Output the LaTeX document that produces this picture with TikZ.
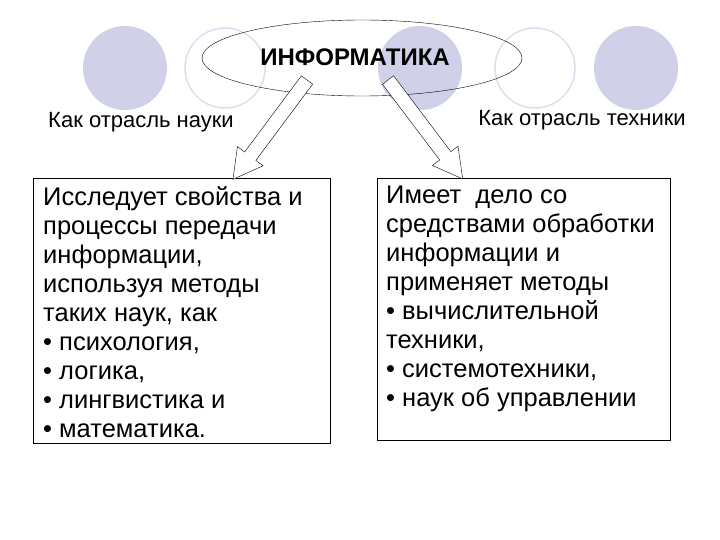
\documentclass[tikz,border=0pt]{standalone}
\usepackage{fontspec}
\setmainfont{Liberation Sans}
\usetikzlibrary{shapes.geometric}
\definecolor{lav}{RGB}{208,208,232}
\tikzset{
 fcirc/.style={fill=lav,draw=none},
 ocirc/.style={draw=lav!70,line width=1.5pt},
 txt/.style={anchor=north west,align=left,font=\fontsize{25.5}{29}\selectfont,inner sep=0pt},
 hollow/.style={draw=black,line width=0.4pt,fill=white}
}
\begin{document}
\begin{tikzpicture}[x=1pt,y=-1pt]
\useasboundingbox (0,0) rectangle (720,540);
\fill[white] (0,0) rectangle (720,540);
\fill[fcirc] (125,68) circle (42);
\draw[ocirc] (225,68) circle (40);
\fill[fcirc] (420,68) circle (42);
\draw[ocirc] (535,68) circle (40);
\fill[fcirc] (636,68) circle (42);
\node[draw,ellipse,minimum width=320,minimum height=76] (e) at (362,58) {};
\node[font=\bfseries\fontsize{24}{26}\selectfont] (t) at (355,57) {ИНФОРМАТИКА};
\node[font=\fontsize{22}{24}\selectfont] (l1) at (141,122) {Как отрасль науки};
\node[font=\fontsize{22}{24}\selectfont] (l2) at (582,120) {Как отрасль техники};
\draw[line width=0.6pt] (33,178) rectangle (330,443);
\draw[line width=0.6pt] (377,178) rectangle (670,440);
\node[txt] (b1) at (43,186)
 {Исследует свойства и\\процессы передачи\\информации,\\используя методы\\таких наук, как\\• психология,\\• логика,\\• лингвистика и\\• математика.};
\node[txt] (b2) at (386,186)
 {Имеет\ \ дело со\\средствами обработки\\информации и\\применяет методы\\• вычислительной\\техники,\\• системотехники,\\• наук об управлении};
\begin{scope}[shift={(307,80)},rotate={atan2(-98,-73)}]
 \draw[hollow] (0,-7) -- (95,-7) -- (95,-16) -- (124,0) -- (95,16) -- (95,7) -- (0,7) -- cycle;
\end{scope}
\begin{scope}[shift={(388,80)},rotate={atan2(-98,74)}]
 \draw[hollow] (0,-7) -- (95,-7) -- (95,-16) -- (124,0) -- (95,16) -- (95,7) -- (0,7) -- cycle;
\end{scope}
\end{tikzpicture}
\end{document}
